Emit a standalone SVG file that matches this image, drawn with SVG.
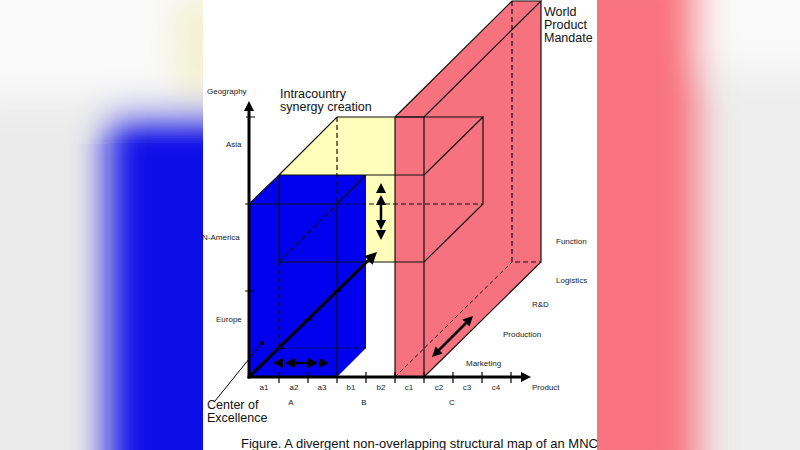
<svg xmlns="http://www.w3.org/2000/svg" width="800" height="450" viewBox="0 0 800 450">
<defs>
<style>
.ln{stroke:#111;stroke-width:1.2;fill:none}
.dash{stroke:#111;stroke-width:1.2;fill:none;stroke-dasharray:5,3}
.ax{stroke:#000;stroke-width:3;fill:none}
.arw{stroke:#000;stroke-width:2.5;fill:none}
.tk{stroke:#000;stroke-width:1.2}
.s{font-family:"Liberation Sans",Arial,sans-serif;font-size:8px;fill:#1a1a1a}
.b{font-family:"Liberation Sans",Arial,sans-serif;font-size:12.5px;fill:#111}
.c{font-family:"Liberation Sans",Arial,sans-serif;font-size:13px;fill:#111}
.m{text-anchor:middle}
</style>
<filter id="blur" x="-50%" y="-50%" width="200%" height="200%"><feGaussianBlur stdDeviation="18"/></filter>
<clipPath id="lp"><rect x="0" y="0" width="203" height="450"/></clipPath>
<clipPath id="rp"><rect x="597" y="0" width="203" height="450"/></clipPath>
<path id="tri" d="M0,0 L-10,-5 L-10,5 Z" fill="#000"/>
</defs>

<g id="background">
  <g clip-path="url(#lp)">
    <rect x="0" y="0" width="203" height="450" fill="#ebebeb"/>
    <g filter="url(#blur)">
      <rect x="-40" y="-40" width="280" height="140" fill="#f9f9f9"/>
      <ellipse cx="200" cy="45" rx="25" ry="55" fill="#f3f0c8"/>
      <rect x="108" y="115" width="160" height="380" fill="#0808e8"/>
    </g>
  </g>
  <g clip-path="url(#rp)">
    <rect x="597" y="0" width="203" height="450" fill="#eeeeee"/>
    <g filter="url(#blur)">
      <rect x="700" y="-40" width="140" height="110" fill="#f9f9f9"/>
      <rect x="560" y="-40" width="138" height="530" fill="#f8727f"/>
    </g>
  </g>
  <rect x="203" y="0" width="394" height="450" fill="#ffffff"/>
</g>

<g id="intracountry-box">
  <polygon points="279,175 337,117 395,117 395,262 366,262 366,175" fill="#ffffbb"/>
</g>

<g id="center-of-excellence-box">
  <polygon points="249,377 249,204 279,175 366,175 366,348 337,377" fill="#0000ee"/>
</g>

<g id="world-product-mandate-slab">
  <polygon points="395,377 395,117 512,1 541,1 541,262 424,377" fill="#f7727f"/>
</g>

<g id="wireframe">
  <path class="ln" d="M245,204 H337 M249,204 L279,175 H424 M279,175 L337,117 H483 M424,175 L483,117 V204 L424,262 H279 M279,175 V262 M337,204 V377 M337,204 L366,175"/>
  <path class="ln" d="M395,117 V377 M424,117 V377 M395,117 H424 M395,117 L512,1 H541 M424,117 L541,1 V262 L424,377"/>
  <path class="dash" d="M337,204 H483 M337,117 V204 M279,262 L337,204 M279,262 V348 H366 M512,1 V262 H541"/>
  <path class="dash" d="M395,377 L512,262" style="stroke-dasharray:4,3;stroke-width:1"/>
</g>

<g id="axes">
  <path class="ax" d="M249,378.5 V111"/>
  <use href="#tri" transform="translate(249,101) rotate(-90)"/>
  <path class="ax" d="M247.5,377 H521"/>
  <use href="#tri" transform="translate(531,377)"/>
  <path class="tk" d="M246,117 H255 M245,291 H253 M279,372 V383 M308,372 V383 M337,372 V383 M366,372 V383 M395,372 V383 M424,372 V383 M453,372 V383 M482,372 V383 M511,372 V383"/>
  <path class="ax" d="M249,377 L368.5,260.3"/>
  <use href="#tri" transform="translate(377,252) rotate(-44.3) scale(1.2)"/>
  <path class="tk" d="M275,348.5 H284 M304,320 H313 M333,291 H342"/>
</g>

<g id="connectors">
  <path class="arw" d="M381,200 V225"/>
  <use href="#tri" transform="translate(381,183) rotate(-90)"/>
  <use href="#tri" transform="translate(381,195) rotate(-90)"/>
  <use href="#tri" transform="translate(381,230) rotate(90)"/>
  <use href="#tri" transform="translate(381,240) rotate(90)"/>
  <path class="arw" d="M290,363 H313"/>
  <use href="#tri" transform="translate(273,363) rotate(180)"/>
  <use href="#tri" transform="translate(285,363) rotate(180)"/>
  <use href="#tri" transform="translate(318,363)"/>
  <use href="#tri" transform="translate(329,363)"/>
  <path class="arw" d="M438,351 L467,322"/>
  <use href="#tri" transform="translate(473,316) rotate(-45)"/>
  <use href="#tri" transform="translate(432,357) rotate(135)"/>
  <path d="M215,401 L262,343" stroke="#000" stroke-width="1" fill="none"/>
  <circle cx="262" cy="343" r="2" fill="#000"/>
</g>

<g id="labels">
  <text class="s" x="207" y="94">Geography</text>
  <text class="s" x="226" y="147">Asia</text>
  <text class="s" x="202" y="240">N-America</text>
  <text class="s" x="216" y="322">Europe</text>
  <text class="s" x="556" y="244">Function</text>
  <text class="s" x="556" y="283">Logistics</text>
  <text class="s" x="532" y="307">R&amp;D</text>
  <text class="s" x="503" y="337">Production</text>
  <text class="s" x="466" y="366">Marketing</text>
  <text class="s" x="532" y="390">Product</text>
  <text class="s m" x="264" y="390">a1</text>
  <text class="s m" x="294" y="390">a2</text>
  <text class="s m" x="322" y="390">a3</text>
  <text class="s m" x="351" y="390">b1</text>
  <text class="s m" x="381" y="390">b2</text>
  <text class="s m" x="409" y="390">c1</text>
  <text class="s m" x="439" y="390">c2</text>
  <text class="s m" x="467" y="390">c3</text>
  <text class="s m" x="496" y="390">c4</text>
  <text class="s m" x="291" y="405">A</text>
  <text class="s m" x="364" y="405">B</text>
  <text class="s m" x="452" y="405">C</text>
  <text class="b" x="544" y="15.5">World</text>
  <text class="b" x="544" y="28.5">Product</text>
  <text class="b" x="544" y="41.5">Mandate</text>
  <text class="b" x="280" y="98">Intracountry</text>
  <text class="b" x="280" y="111">synergy creation</text>
  <text class="b" x="207" y="408.5">Center of</text>
  <text class="b" x="207" y="421.5">Excellence</text>
  <text class="c" x="241" y="448">Figure. A divergent non-overlapping structural map of an MNC</text>
</g>
</svg>
